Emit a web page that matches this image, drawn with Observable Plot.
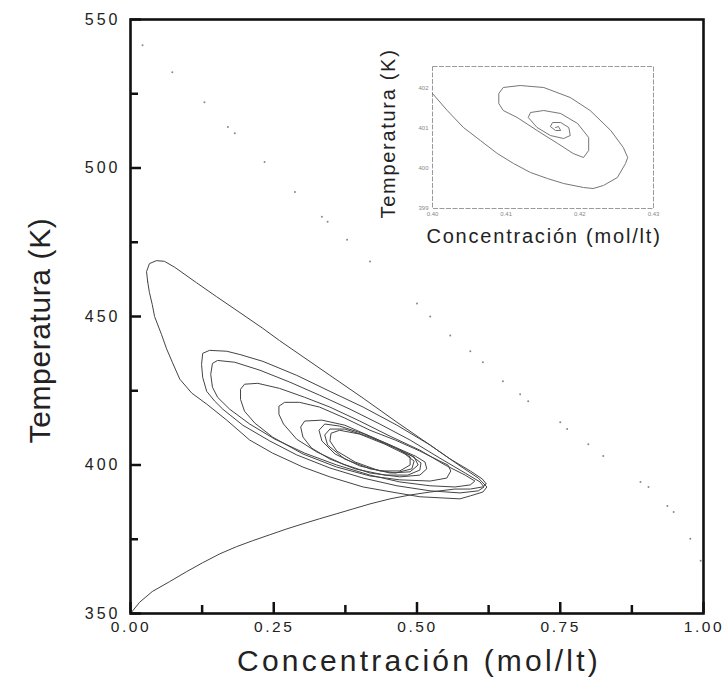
<!DOCTYPE html>
<html>
<head>
<meta charset="utf-8">
<script src="https://cdn.jsdelivr.net/npm/d3@7"></script>
<script src="https://cdn.jsdelivr.net/npm/@observablehq/plot@0.6"></script>
<style>
  html, body { margin: 0; padding: 0; background: #fff; }
  #chart { position: relative; width: 725px; height: 688px; font-family: "Liberation Sans", Arial, sans-serif; }
  #inset { position: absolute; left: 370px; top: 50px; }
</style>
</head>
<body>
<div id="chart"><div id="inset"></div></div>
<script>
// Axis ticks of the main phase portrait
const xMajor = [0, 0.25, 0.5, 0.75, 1];
const xMinor = [0.125, 0.375, 0.625, 0.875];
const yMajor = [350, 400, 450, 500, 550];
const yMinor = [375, 425, 475, 525];

// Fast trajectory from the upper-left corner (sparse integration points)
const diagonalDots = [
  [0.021, 541.3], [0.073, 532.2], [0.129, 522.1], [0.170, 513.8], [0.182, 511.7],
  [0.234, 502.0], [0.287, 491.9], [0.334, 483.6], [0.344, 481.9], [0.378, 475.8],
  [0.418, 468.5], [0.500, 454.4], [0.523, 450.0], [0.558, 443.6], [0.593, 438.3],
  [0.615, 434.6], [0.650, 428.2], [0.680, 423.8], [0.694, 421.5], [0.750, 414.4],
  [0.762, 412.1], [0.799, 407.0], [0.825, 403.0], [0.890, 394.3], [0.904, 392.6],
  [0.937, 386.2], [0.948, 384.2], [0.977, 375.2], [0.995, 367.8]
];

// Outer loop starting near C = 0.03 mol/lt, T = 465 K
const outerLoop = [
  [0.030, 461.7], [0.028, 465.1], [0.033, 467.8], [0.045, 468.8], [0.059, 468.6],
  [0.077, 466.6], [0.115, 461.4], [0.150, 456.7], [0.191, 451.3], [0.231, 446.0],
  [0.260, 441.9], [0.348, 430.2], [0.406, 422.5], [0.465, 414.4], [0.523, 406.7],
  [0.575, 399.7], [0.607, 395.6], [0.622, 392.6], [0.615, 390.9], [0.593, 389.6],
  [0.575, 388.6], [0.505, 389.3], [0.465, 390.6], [0.406, 392.6], [0.348, 396.0],
  [0.301, 399.3], [0.248, 404.0], [0.208, 408.4], [0.168, 415.1], [0.133, 420.5],
  [0.107, 424.2], [0.086, 428.9], [0.073, 434.6], [0.063, 439.1], [0.054, 444.0],
  [0.042, 450.0], [0.038, 454.0], [0.033, 458.1], [0.030, 461.7]
];

// Trajectory from the origin that winds into the stable focus
const originSpiral = [
  [0.000, 350.0], [0.016, 353.8], [0.038, 357.4], [0.068, 360.7], [0.098, 364.1],
  [0.126, 367.1], [0.156, 370.1], [0.185, 372.5], [0.213, 374.5], [0.243, 376.5],
  [0.273, 378.5], [0.301, 380.2], [0.330, 381.9], [0.360, 383.6], [0.388, 385.2],
  [0.418, 386.9], [0.453, 388.6], [0.488, 389.9], [0.523, 390.9], [0.566, 391.9],
  [0.593, 391.9], [0.614, 392.6], [0.621, 393.6], [0.614, 395.3], [0.593, 398.0],
  [0.558, 402.0], [0.523, 406.7], [0.465, 413.4], [0.406, 419.5], [0.348, 424.8],
  [0.290, 430.2], [0.231, 434.9], [0.191, 437.2], [0.168, 438.3], [0.138, 438.6],
  [0.126, 437.6], [0.124, 433.9], [0.126, 429.5], [0.133, 424.8], [0.147, 421.5],
  [0.161, 418.8], [0.196, 413.4], [0.243, 408.1], [0.290, 403.4], [0.348, 399.0],
  [0.406, 395.6], [0.465, 393.0], [0.523, 391.3], [0.575, 390.6], [0.607, 391.3],
  [0.617, 392.6], [0.610, 394.3],
  [0.584, 397.3], [0.540, 402.3], [0.488, 408.4], [0.435, 413.8], [0.383, 418.8],
  [0.330, 423.5], [0.278, 427.9], [0.226, 431.9], [0.182, 434.6], [0.152, 435.2],
  [0.143, 434.2], [0.140, 430.5], [0.143, 426.2], [0.152, 422.8], [0.173, 418.8],
  [0.208, 413.8], [0.252, 408.7], [0.304, 404.0], [0.360, 400.0], [0.418, 396.6],
  [0.470, 394.3], [0.523, 393.0], [0.566, 392.6], [0.593, 393.3], [0.601, 394.6],
  [0.584, 396.6],
  [0.549, 400.0], [0.505, 405.0], [0.453, 409.7], [0.400, 414.8], [0.348, 419.5],
  [0.304, 422.8], [0.260, 425.8], [0.222, 427.5], [0.199, 427.2], [0.192, 425.5],
  [0.192, 422.1], [0.199, 418.1], [0.217, 414.1], [0.248, 409.4], [0.301, 403.7],
  [0.360, 399.3], [0.418, 396.3], [0.470, 395.0], [0.523, 394.6], [0.552, 395.6],
  [0.559, 398.0], [0.554, 400.0], [0.540, 401.3],
  [0.505, 404.7], [0.462, 408.4], [0.418, 411.7], [0.374, 415.8], [0.330, 419.5],
  [0.295, 421.1], [0.269, 421.1], [0.259, 419.8], [0.259, 417.1], [0.267, 413.8],
  [0.290, 408.7], [0.325, 404.4], [0.371, 400.3], [0.418, 397.3], [0.470, 396.0],
  [0.505, 396.6], [0.517, 398.7], [0.514, 401.0], [0.497, 403.0],
  [0.462, 406.0], [0.418, 409.7], [0.374, 413.4], [0.334, 415.1], [0.304, 414.8],
  [0.297, 412.8], [0.301, 409.4], [0.316, 405.7], [0.348, 402.0], [0.392, 398.7],
  [0.444, 396.6], [0.484, 396.6], [0.505, 398.3], [0.507, 400.7], [0.491, 403.0],
  [0.453, 406.7], [0.409, 410.4], [0.365, 413.1], [0.339, 413.8], [0.329, 411.7],
  [0.334, 408.1], [0.357, 403.7], [0.400, 399.7], [0.453, 397.3], [0.488, 397.7],
  [0.502, 400.0], [0.495, 402.7],
  [0.462, 405.7], [0.418, 409.4], [0.374, 412.1], [0.348, 412.1], [0.339, 410.1],
  [0.344, 406.7], [0.374, 402.0], [0.418, 398.7], [0.462, 397.3], [0.491, 398.7],
  [0.495, 401.3],
  [0.479, 403.7], [0.444, 407.0], [0.400, 410.4], [0.365, 411.7], [0.350, 410.7],
  [0.348, 408.1], [0.360, 404.7], [0.392, 401.0], [0.435, 398.0], [0.470, 398.0],
  [0.488, 400.0], [0.488, 402.7], [0.470, 405.0]
];

// Inset: close-up of the approach to the steady state
const insetXTicks = [0.40, 0.41, 0.42, 0.43];
const insetYTicks = [399, 400, 401, 402];
const insetSpiral = [
  [0.4000, 401.875], [0.4020, 401.45], [0.4042, 401.025], [0.4065, 400.70], [0.4088, 400.375],
  [0.4110, 400.125], [0.4133, 399.90], [0.4156, 399.75], [0.4178, 399.625], [0.4205, 399.525],
  [0.4218, 399.50], [0.4232, 399.575], [0.4251, 399.775], [0.4262, 400.125], [0.4265, 400.275],
  [0.4259, 400.525], [0.4242, 400.95], [0.4214, 401.45], [0.4187, 401.775], [0.4151, 402.025],
  [0.4119, 402.075], [0.4096, 402.025], [0.4090, 401.875], [0.4090, 401.625], [0.4096, 401.45],
  [0.4115, 401.275], [0.4142, 400.95], [0.4170, 400.625], [0.4191, 400.375], [0.4205, 400.275],
  [0.4212, 400.45], [0.4212, 400.775], [0.4197, 401.125], [0.4174, 401.375], [0.4151, 401.45],
  [0.4133, 401.40], [0.4130, 401.275], [0.4142, 401.025], [0.4160, 400.825], [0.4178, 400.75],
  [0.4187, 400.825], [0.4185, 401.025], [0.4174, 401.15], [0.4163, 401.15], [0.4160, 401.05],
  [0.4167, 400.95], [0.4174, 400.95], [0.4171, 401.05], [0.4167, 401.025]
];

const xTitle = "Concentración (mol/lt)";
const yTitle = "Temperatura (K)";

const fontFamily = '"Liberation Sans", Arial, sans-serif';
const frameW = 725 - 130 - 22;
const frameH = 688 - 19 - 75;
const lineColor = "#444";
const fmt2 = d3.format(".2f");

const main = Plot.plot({
  width: 725,
  height: 688,
  marginLeft: 130,
  marginRight: 22,
  marginTop: 19,
  marginBottom: 75,
  style: {fontFamily, background: "white", overflow: "visible"},
  x: {domain: [0, 1], axis: null},
  y: {domain: [350, 550], axis: null},
  marks: [
    Plot.dot(diagonalDots, {x: d => d[0], y: d => d[1], r: 1, fill: "#888", stroke: "none"}),
    Plot.line(outerLoop, {x: d => d[0], y: d => d[1], stroke: lineColor, strokeWidth: 1}),
    Plot.line(originSpiral, {x: d => d[0], y: d => d[1], stroke: lineColor, strokeWidth: 1}),
    Plot.tickX(xMajor, {x: d => d, insetTop: frameH - 11, stroke: "#111", strokeWidth: 2.5}),
    Plot.tickX(xMinor, {x: d => d, insetTop: frameH - 8, stroke: "#111", strokeWidth: 2.5}),
    Plot.tickY(yMajor, {y: d => d, insetRight: frameW - 11, stroke: "#111", strokeWidth: 2.5}),
    Plot.tickY(yMinor, {y: d => d, insetRight: frameW - 8, stroke: "#111", strokeWidth: 2.5}),
    Plot.frame({stroke: "#111", strokeWidth: 2.6}),
    Plot.text(xMajor, {x: d => d, frameAnchor: "bottom", dy: 14, dx: 0.5, lineAnchor: "middle",
      text: d => fmt2(d), fontSize: 15.5, fill: "#222"}),
    Plot.text(yMajor, {y: d => d, frameAnchor: "left", dx: -10, textAnchor: "end",
      text: d => String(d), fontSize: 16, fill: "#222"}),
    Plot.text([xTitle], {frameAnchor: "bottom", dy: 48, dx: 2, lineAnchor: "middle", text: d => d,
      fontSize: 30, fill: "#222"}),
    Plot.text([yTitle], {frameAnchor: "left", dx: -90, dy: 14, rotate: -90, textAnchor: "middle",
      lineAnchor: "middle", text: d => d, fontSize: 30, fill: "#222"})
  ]
});
document.getElementById("chart").prepend(main);

const inset = Plot.plot({
  width: 300,
  height: 205,
  marginLeft: 62,
  marginRight: 17,
  marginTop: 16,
  marginBottom: 47,
  style: {fontFamily, background: "transparent", overflow: "visible"},
  x: {domain: [0.40, 0.43], axis: null},
  y: {domain: [399, 402.55], axis: null},
  marks: [
    Plot.frame({stroke: "#9a9a9a", strokeWidth: 1, strokeDasharray: "5,1.5"}),
    Plot.line(insetSpiral, {x: d => d[0], y: d => d[1], stroke: "#666", strokeWidth: 0.9}),
    Plot.text(insetYTicks, {y: d => d, frameAnchor: "left", dx: -4, textAnchor: "end",
      text: d => String(d), fontSize: 6, fill: "#888"}),
    Plot.text(insetXTicks, {x: d => d, frameAnchor: "bottom", dy: 6, lineAnchor: "middle",
      text: d => fmt2(d), fontSize: 6, fill: "#888"}),
    Plot.text([xTitle], {frameAnchor: "bottom", dy: 28, dx: 1, lineAnchor: "middle", text: d => d,
      fontSize: 20, fill: "#222"}),
    Plot.text([yTitle], {frameAnchor: "left", dx: -44, dy: -4, rotate: -90, textAnchor: "middle",
      lineAnchor: "middle", text: d => d, fontSize: 20, fill: "#222"})
  ]
});
document.getElementById("inset").append(inset);

// Letter spacing of the typeset labels
const xTickText = new Set(xMajor.map(fmt2));
const yTickText = new Set(yMajor.map(String));
d3.select(main).selectAll("text").each(function () {
  const t = this.textContent;
  if (xTickText.has(t)) this.style.letterSpacing = "2.6px";
  else if (yTickText.has(t)) this.style.letterSpacing = "3px";
  else if (t === xTitle) this.style.letterSpacing = "3.2px";
  else if (t === yTitle) this.style.letterSpacing = "0.6px";
});
d3.select(inset).selectAll("text").each(function () {
  const t = this.textContent;
  if (t === xTitle) this.style.letterSpacing = "1.8px";
  else if (t === yTitle) this.style.letterSpacing = "1.7px";
});
</script>
</body>
</html>
